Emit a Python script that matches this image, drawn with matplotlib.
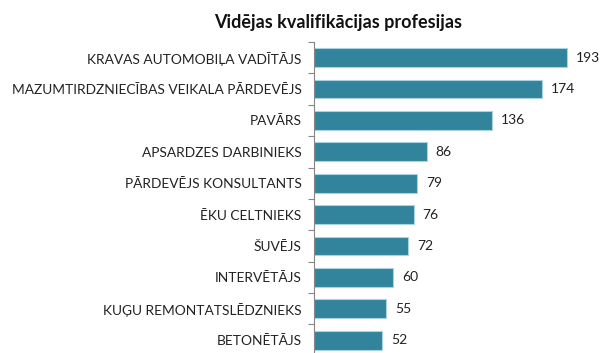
import matplotlib.pyplot as plt

professions = [
    "KRAVAS AUTOMOBIĻA VADĪTĀJS",
    "MAZUMTIRDZNIECĪBAS VEIKALA PĀRDEVĒJS",
    "PAVĀRS",
    "APSARDZES DARBINIEKS",
    "PĀRDEVĒJS KONSULTANTS",
    "ĒKU CELTNIEKS",
    "ŠUVĒJS",
    "INTERVĒTĀJS",
    "KUĢU REMONTATSLĒDZNIEKS",
    "BETONĒTĀJS",
]
counts = [193, 174, 136, 86, 79, 76, 72, 60, 55, 52]

plt.rcParams['font.family'] = ['Lato', 'DejaVu Sans']

fig = plt.figure(figsize=(6.02, 3.53), dpi=100)
ax = fig.add_axes([0.5216, -0.008, 0.47, 0.889])

pos = list(range(len(professions)))
ax.barh(pos, counts, height=0.6, color='#31849b', edgecolor='#a9d3e0', linewidth=0.8)
ax.set_ylim(len(professions) - 0.5, -0.5)
ax.set_xlim(0, 216)

for p, v in zip(pos, counts):
    ax.text(v + 7, p, str(v), va='center', ha='left', fontsize=10, color='#222222')

# category axis with tick marks at the boundaries between bars
ax.set_yticks([p - 0.5 for p in pos] + [len(pos) - 0.5])
ax.set_yticklabels([])
ax.set_yticks(pos, minor=True)
ax.set_yticklabels(professions, minor=True, fontsize=9.9, color='#222222')
ax.tick_params(axis='y', which='minor', length=0, pad=9)
ax.tick_params(axis='y', which='major', length=4, color='#868686', width=0.8)

ax.set_xticks([])
for side in ['top', 'right', 'bottom']:
    ax.spines[side].set_visible(False)
ax.spines['left'].set_color('#868686')
ax.spines['left'].set_linewidth(0.8)

fig.text(0.561, 0.937, "Vidējas kvalifikācijas profesijas", ha='center', va='center',
         fontsize=13, fontweight='bold', color='#111111')

fig.savefig('out.png', dpi=100)
